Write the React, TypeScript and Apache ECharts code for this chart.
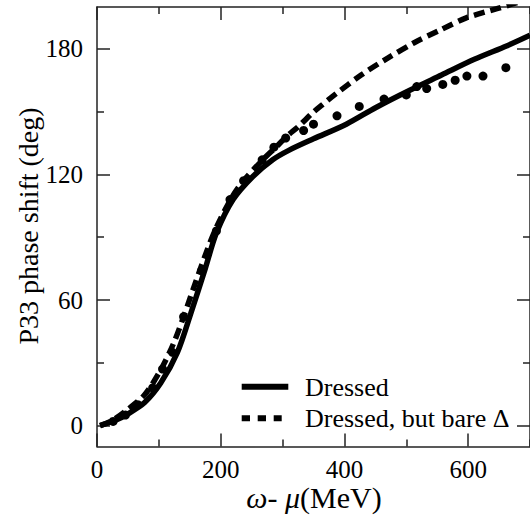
import React, { useEffect, useRef } from "react";
import * as echarts from "echarts";

// Dressed (solid) curve
const dressedX = [5, 30, 50, 77, 103, 130, 151, 175, 193, 220, 252, 284, 310, 350, 403, 451, 504, 557, 610, 663, 700];
const dressedY = [0, 2.5, 5.6, 11, 20.3, 35, 53, 75, 92, 108, 119, 127, 131.5, 137, 144, 152, 160, 167.5, 175, 181.5, 186.5];

// Dressed, but bare Delta (dashed) curve
const bareX = [5, 25, 50, 77, 103, 124, 140, 166, 189, 216, 236, 268, 289, 308, 326, 347, 363, 384, 427, 470, 512, 555, 597, 648, 700];
const bareY = [0, 2.5, 7.8, 14.7, 26.6, 39.4, 52, 74, 92, 108, 116.7, 127, 133, 138.5, 143, 149, 153, 158, 167.5, 175.6, 182.8, 189, 194.8, 199.3, 204];

// Experimental points
const expX = [26, 46, 66, 90, 106, 122, 140, 169, 193, 215, 237, 267, 286, 305, 334, 350, 388, 424, 464, 500, 517, 533, 559, 579, 598, 624, 661];
const expY = [2, 5, 10, 18, 27, 35, 52, 74, 93, 108, 117, 127, 133, 137.4, 141, 144, 148, 152.5, 156, 158, 162, 161, 163, 165, 167, 167, 171];

const xMajorTicks = [0, 200, 400, 600];
const xMinorTicks = [100, 300, 500, 700];
const yMajorTicks = [0, 60, 120, 180];
const yMinorTicks = [30, 90, 150];

const seriesNames = ["Dressed", "Dressed, but bare \u0394"];
const yTitle = "P33 phase shift (deg)";

const FONT = "Liberation Serif";
const AXIS_COLOR = "#222";

function zip(xs: number[], ys: number[]) {
  return xs.map((x, i) => [x, ys[i]]);
}

export default function App() {
  const ref = useRef<HTMLDivElement>(null);
  useEffect(() => {
    if (!ref.current) return;
    const chart = echarts.init(ref.current, null, { renderer: "svg" });
    const grid = { left: 97, top: 7, width: 439, height: 439.5 };
    const baseX = (position: string, ticks: number[], len: number, labels: boolean, line: boolean) => ({
      type: "value",
      position,
      min: 0,
      max: 700,
      axisLine: { show: line, onZero: false, lineStyle: { color: AXIS_COLOR, width: 1.5 } },
      axisTick: {
        show: true,
        inside: true,
        length: len,
        customValues: ticks,
        lineStyle: { color: AXIS_COLOR, width: 1.5 },
      },
      axisLabel: labels
        ? { show: true, customValues: xMajorTicks, fontFamily: FONT, fontSize: 25, color: "#000", margin: 10 }
        : { show: false },
      splitLine: { show: false },
    });
    const baseY = (position: string, ticks: number[], len: number, labels: boolean, line: boolean) => ({
      type: "value",
      position,
      min: -10,
      max: 200,
      axisLine: { show: line, onZero: false, lineStyle: { color: AXIS_COLOR, width: 1.5 } },
      axisTick: {
        show: true,
        inside: true,
        length: len,
        customValues: ticks,
        lineStyle: { color: AXIS_COLOR, width: 1.5 },
      },
      axisLabel: labels
        ? { show: true, customValues: yMajorTicks, fontFamily: FONT, fontSize: 25, color: "#000", margin: 14 }
        : { show: false },
      splitLine: { show: false },
    });
    chart.setOption({
      animation: false,
      backgroundColor: "#fff",
      grid,
      xAxis: [
        baseX("bottom", xMajorTicks, 13, true, true),
        baseX("bottom", xMinorTicks, 7, false, false),
        baseX("top", xMajorTicks, 13, false, true),
        baseX("top", xMinorTicks, 7, false, false),
      ],
      yAxis: [
        baseY("left", yMajorTicks, 13, true, true),
        baseY("left", yMinorTicks, 7, false, false),
        baseY("right", yMajorTicks, 13, false, true),
        baseY("right", yMinorTicks, 7, false, false),
      ],
      graphic: [
        {
          type: "text",
          x: 28,
          y: 226,
          rotation: Math.PI / 2,
          style: {
            text: yTitle,
            fontFamily: FONT,
            fontSize: 28,
            fill: "#000",
            align: "center",
            verticalAlign: "middle",
          },
        },
        {
          type: "text",
          x: 314,
          y: 497,
          style: {
            text: "{i|\u03c9}- {i|\u03bc}(MeV)",
            fontFamily: FONT,
            fontSize: 30,
            fill: "#000",
            align: "center",
            verticalAlign: "middle",
            rich: {
              i: { fontFamily: FONT, fontSize: 30, fontStyle: "italic", fill: "#000" },
            },
          },
        },
        // legend
        {
          type: "line",
          shape: { x1: 241.7, y1: 386.7, x2: 288.3, y2: 386.7 },
          style: { stroke: "#000", lineWidth: 6 },
        },
        {
          type: "line",
          shape: { x1: 241.7, y1: 418.3, x2: 281.7, y2: 418.3 },
          style: { stroke: "#000", lineWidth: 6, lineDash: [8.3, 7.7] },
        },
        {
          type: "text",
          x: 305,
          y: 387,
          style: {
            text: seriesNames[0],
            fontFamily: FONT,
            fontSize: 26,
            fill: "#000",
            align: "left",
            verticalAlign: "middle",
          },
        },
        {
          type: "text",
          x: 305,
          y: 418.5,
          style: {
            text: seriesNames[1],
            fontFamily: FONT,
            fontSize: 26,
            fill: "#000",
            align: "left",
            verticalAlign: "middle",
          },
        },
      ],
      series: [
        {
          name: seriesNames[0],
          type: "line",
          data: zip(dressedX, dressedY),
          smooth: 0.3,
          symbol: "none",
          lineStyle: { color: "#000", width: 5.5 },
          itemStyle: { color: "#000" },
          z: 3,
        },
        {
          name: seriesNames[1],
          type: "line",
          data: zip(bareX, bareY),
          smooth: 0.3,
          symbol: "none",
          lineStyle: { color: "#000", width: 5.5, type: [11, 6] },
          itemStyle: { color: "#000" },
          z: 3,
        },
        {
          name: "data",
          type: "scatter",
          data: zip(expX, expY),
          symbol: "circle",
          symbolSize: 9,
          itemStyle: { color: "#000", opacity: 1 },
          z: 4,
        },
      ],
    });
    return () => chart.dispose();
  }, []);
  return (
    <div
      ref={ref}
      style={{ position: "absolute", left: 0, top: 0, width: 530, height: 515, background: "#fff" }}
    />
  );
}
